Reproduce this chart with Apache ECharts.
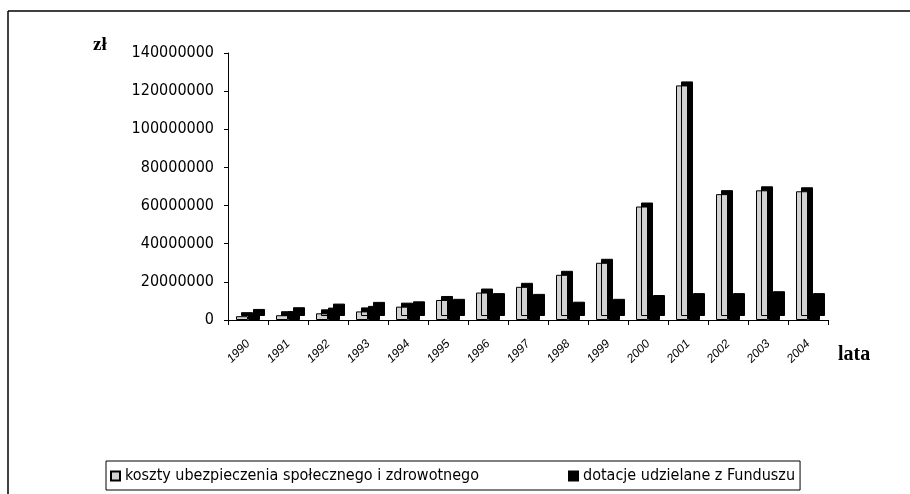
<!DOCTYPE html>
<html>
<head>
<meta charset="utf-8">
<script src="https://cdn.jsdelivr.net/npm/echarts@6/dist/echarts.min.js"></script>
<style>
html,body{margin:0;padding:0;background:#fff;}
#c{width:910px;height:494px;}
</style>
</head>
<body>
<div id="c"></div>
<script>
var years = ['1990','1991','1992','1993','1994','1995','1996','1997','1998','1999','2000','2001','2002','2003','2004'];
var koszty = [2000000, 2500000, 3500000, 4500000, 7000000, 10500000, 14400000, 17400000, 23700000, 30000000, 59500000, 123000000, 66000000, 68000000, 67500000];
var dotacje = [3700000, 4600000, 6500000, 7400000, 7700000, 9000000, 12000000, 11600000, 7500000, 9000000, 11000000, 12000000, 12000000, 13000000, 12000000];
var seriesNames = ['koszty ubezpieczenia społecznego i zdrowotnego', 'dotacje udzielane z Funduszu'];
var yMin = 0, yMax = 140000000, yStep = 20000000;

var FONT = '"Liberation Sans Narrow","DejaVu Sans Condensed","Arial Narrow",sans-serif';
var chart = echarts.init(document.getElementById('c'), null, {renderer:'canvas'});
chart.setOption({
  animation:false,
  backgroundColor:'#fff',
  grid:{left:228, right:82, top:53, bottom:174, containLabel:false},
  graphic:[
    {type:'line', shape:{x1:8,y1:11,x2:910,y2:11}, style:{stroke:'#000', lineWidth:1.5}},
    {type:'line', shape:{x1:8,y1:11,x2:8,y2:494}, style:{stroke:'#000', lineWidth:1.5}},
    {type:'text', left:93, top:36, style:{text:'zł', font:'bold 19px "Liberation Serif","DejaVu Serif",serif', fill:'#000'}},
    {type:'text', left:838, top:345, style:{text:'lata', font:'bold 20px "Liberation Serif","DejaVu Serif",serif', fill:'#000'}}
  ],
  legend:{
    left:106, top:461,
    data: seriesNames,
    orient:'horizontal',
    icon:'rect',
    itemWidth:9, itemHeight:9, itemGap:89,
    padding:[7,5,6,4],
    borderColor:'#000', borderWidth:1,
    textStyle:{fontFamily:FONT, fontSize:16, color:'#000'},
    itemStyle:{shadowBlur:0, shadowOffsetX:0, shadowOffsetY:0, shadowColor:'rgba(0,0,0,0)'}
  },
  xAxis:{
    type:'category', data:years,
    axisLine:{lineStyle:{color:'#000', width:1}},
    axisTick:{show:true, length:5, lineStyle:{color:'#000'}},
    axisLabel:{rotate:45, margin:22, fontFamily:'"Liberation Sans","DejaVu Sans",sans-serif', fontStyle:'italic', fontSize:12, color:'#000'},
    splitLine:{show:false}
  },
  yAxis:{
    type:'value', min:yMin, max:yMax, interval:yStep,
    axisLine:{show:true, lineStyle:{color:'#000', width:1}},
    axisTick:{show:true, length:4, lineStyle:{color:'#000'}},
    axisLabel:{margin:14, fontFamily:FONT, fontSize:16, color:'#000', formatter:function(v){return String(v);}},
    splitLine:{show:false}
  },
  series:[
    {name:seriesNames[0], type:'bar', data:koszty, barWidth:12, barGap:'0%',
     itemStyle:{color:'#d2d2d2', borderColor:'#000', borderWidth:1,
       shadowColor:'#000', shadowBlur:0, shadowOffsetX:5, shadowOffsetY:-4}},
    {name:seriesNames[1], type:'bar', data:dotacje, barWidth:12, barGap:'0%',
     itemStyle:{color:'#000', borderColor:'#000', borderWidth:1,
       shadowColor:'#000', shadowBlur:0, shadowOffsetX:5, shadowOffsetY:-4}}
  ]
});
</script>
</body>
</html>
